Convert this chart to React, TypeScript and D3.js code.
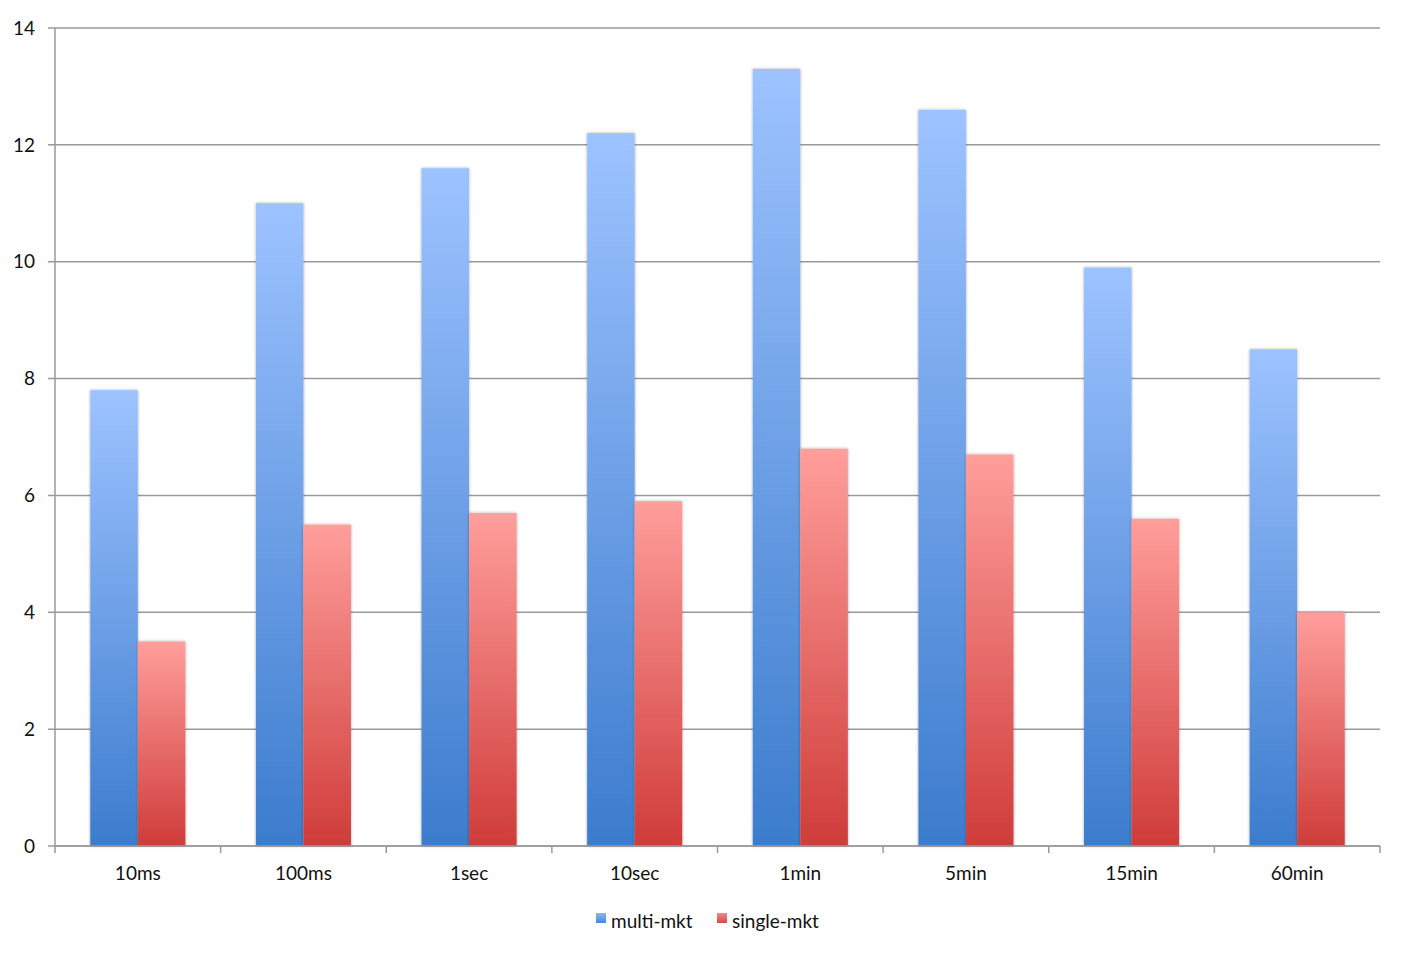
import React from "react";
import * as d3 from "d3";

const categories = ["10ms", "100ms", "1sec", "10sec", "1min", "5min", "15min", "60min"];
const multiMkt = [7.8, 11.0, 11.6, 12.2, 13.3, 12.6, 9.9, 8.5];
const singleMkt = [3.5, 5.5, 5.7, 5.9, 6.8, 6.7, 5.6, 4.0];
const yTicks = [0, 2, 4, 6, 8, 10, 12, 14];
const seriesNames = ["multi-mkt", "single-mkt"];

const W = 1408, H = 957;
const L = 55, R = 1380, T = 28, B = 846;
const FONT = "Lato, 'Open Sans', sans-serif";
const FS = 19;

export default function App() {
  const x = d3.scaleBand<string>().domain(categories).range([L, R]).paddingInner(0).paddingOuter(0);
  const y = d3.scaleLinear().domain([0, 14]).range([B, T]);
  const step = x.step();
  const groupW = step * 0.574;
  const barW = groupW / 2;
  const off = (step - groupW) / 2;
  const series = [
    { name: seriesNames[0], values: multiMkt, grad: "gBlue" },
    { name: seriesNames[1], values: singleMkt, grad: "gRed" },
  ];
  return (
    <svg width={W} height={H} style={{ position: "absolute", left: 0, top: 0 }}>
      <defs>
        <linearGradient id="gBlue" x1="0" y1="0" x2="0" y2="1">
          <stop offset="0" stopColor="#9DC3FF" />
          <stop offset="1" stopColor="#3C7CCD" />
        </linearGradient>
        <linearGradient id="gRed" x1="0" y1="0" x2="0" y2="1">
          <stop offset="0" stopColor="#FF9E9B" />
          <stop offset="1" stopColor="#CF3C3A" />
        </linearGradient>
        <linearGradient id="lBlue" x1="0" y1="0" x2="0" y2="1">
          <stop offset="0" stopColor="#8DB6F2" />
          <stop offset="1" stopColor="#4A86D6" />
        </linearGradient>
        <linearGradient id="lRed" x1="0" y1="0" x2="0" y2="1">
          <stop offset="0" stopColor="#F08A88" />
          <stop offset="1" stopColor="#D5494A" />
        </linearGradient>
        <filter id="sh" x="-20%" y="-5%" width="140%" height="110%">
          <feGaussianBlur in="SourceAlpha" stdDeviation="1.5" />
          <feOffset dx="0" dy="0" result="b" />
          <feComponentTransfer><feFuncA type="linear" slope="0.35" /></feComponentTransfer>
          <feMerge><feMergeNode /><feMergeNode in="SourceGraphic" /></feMerge>
        </filter>
      </defs>
      {yTicks.map((t) => (
        <g key={t}>
          <line x1={L - 7} x2={R} y1={y(t)} y2={y(t)} stroke="#9a9a9a" strokeWidth={1.5} />
          <text x={35} y={y(t)} dy="0.35em" textAnchor="end" fontFamily={FONT} fontSize={FS} fill="#111">{t}</text>
        </g>
      ))}
      <line x1={L} x2={L} y1={T} y2={B} stroke="#9a9a9a" strokeWidth={1.5} />
      {categories.map((c, i) =>
        series.map((s, j) => (
          <rect
            key={c + s.name}
            x={(x(c) as number) + off + j * barW}
            y={y(s.values[i])}
            width={barW}
            height={B - y(s.values[i])}
            fill={`url(#${s.grad})`}
            filter="url(#sh)"
          />
        ))
      )}
      <line x1={L} x2={R} y1={B} y2={B} stroke="#9a9a9a" strokeWidth={1.5} />
      {[...categories.map((c) => x(c) as number), R].map((p, i) => (
        <line key={i} x1={p} x2={p} y1={B} y2={B + 7} stroke="#9a9a9a" strokeWidth={1.5} />
      ))}
      {categories.map((c) => (
        <text key={c} x={(x(c) as number) + step / 2} y={880} textAnchor="middle" fontFamily={FONT} fontSize={FS} fill="#111">{c}</text>
      ))}
      <g>
        <rect x={596} y={913} width={10} height={10} fill="url(#lBlue)" />
        <text x={611} y={928} fontFamily={FONT} fontSize={FS} fill="#111">{seriesNames[0]}</text>
        <rect x={717} y={913} width={10} height={10} fill="url(#lRed)" />
        <text x={732} y={928} fontFamily={FONT} fontSize={FS} fill="#111">{seriesNames[1]}</text>
      </g>
    </svg>
  );
}
